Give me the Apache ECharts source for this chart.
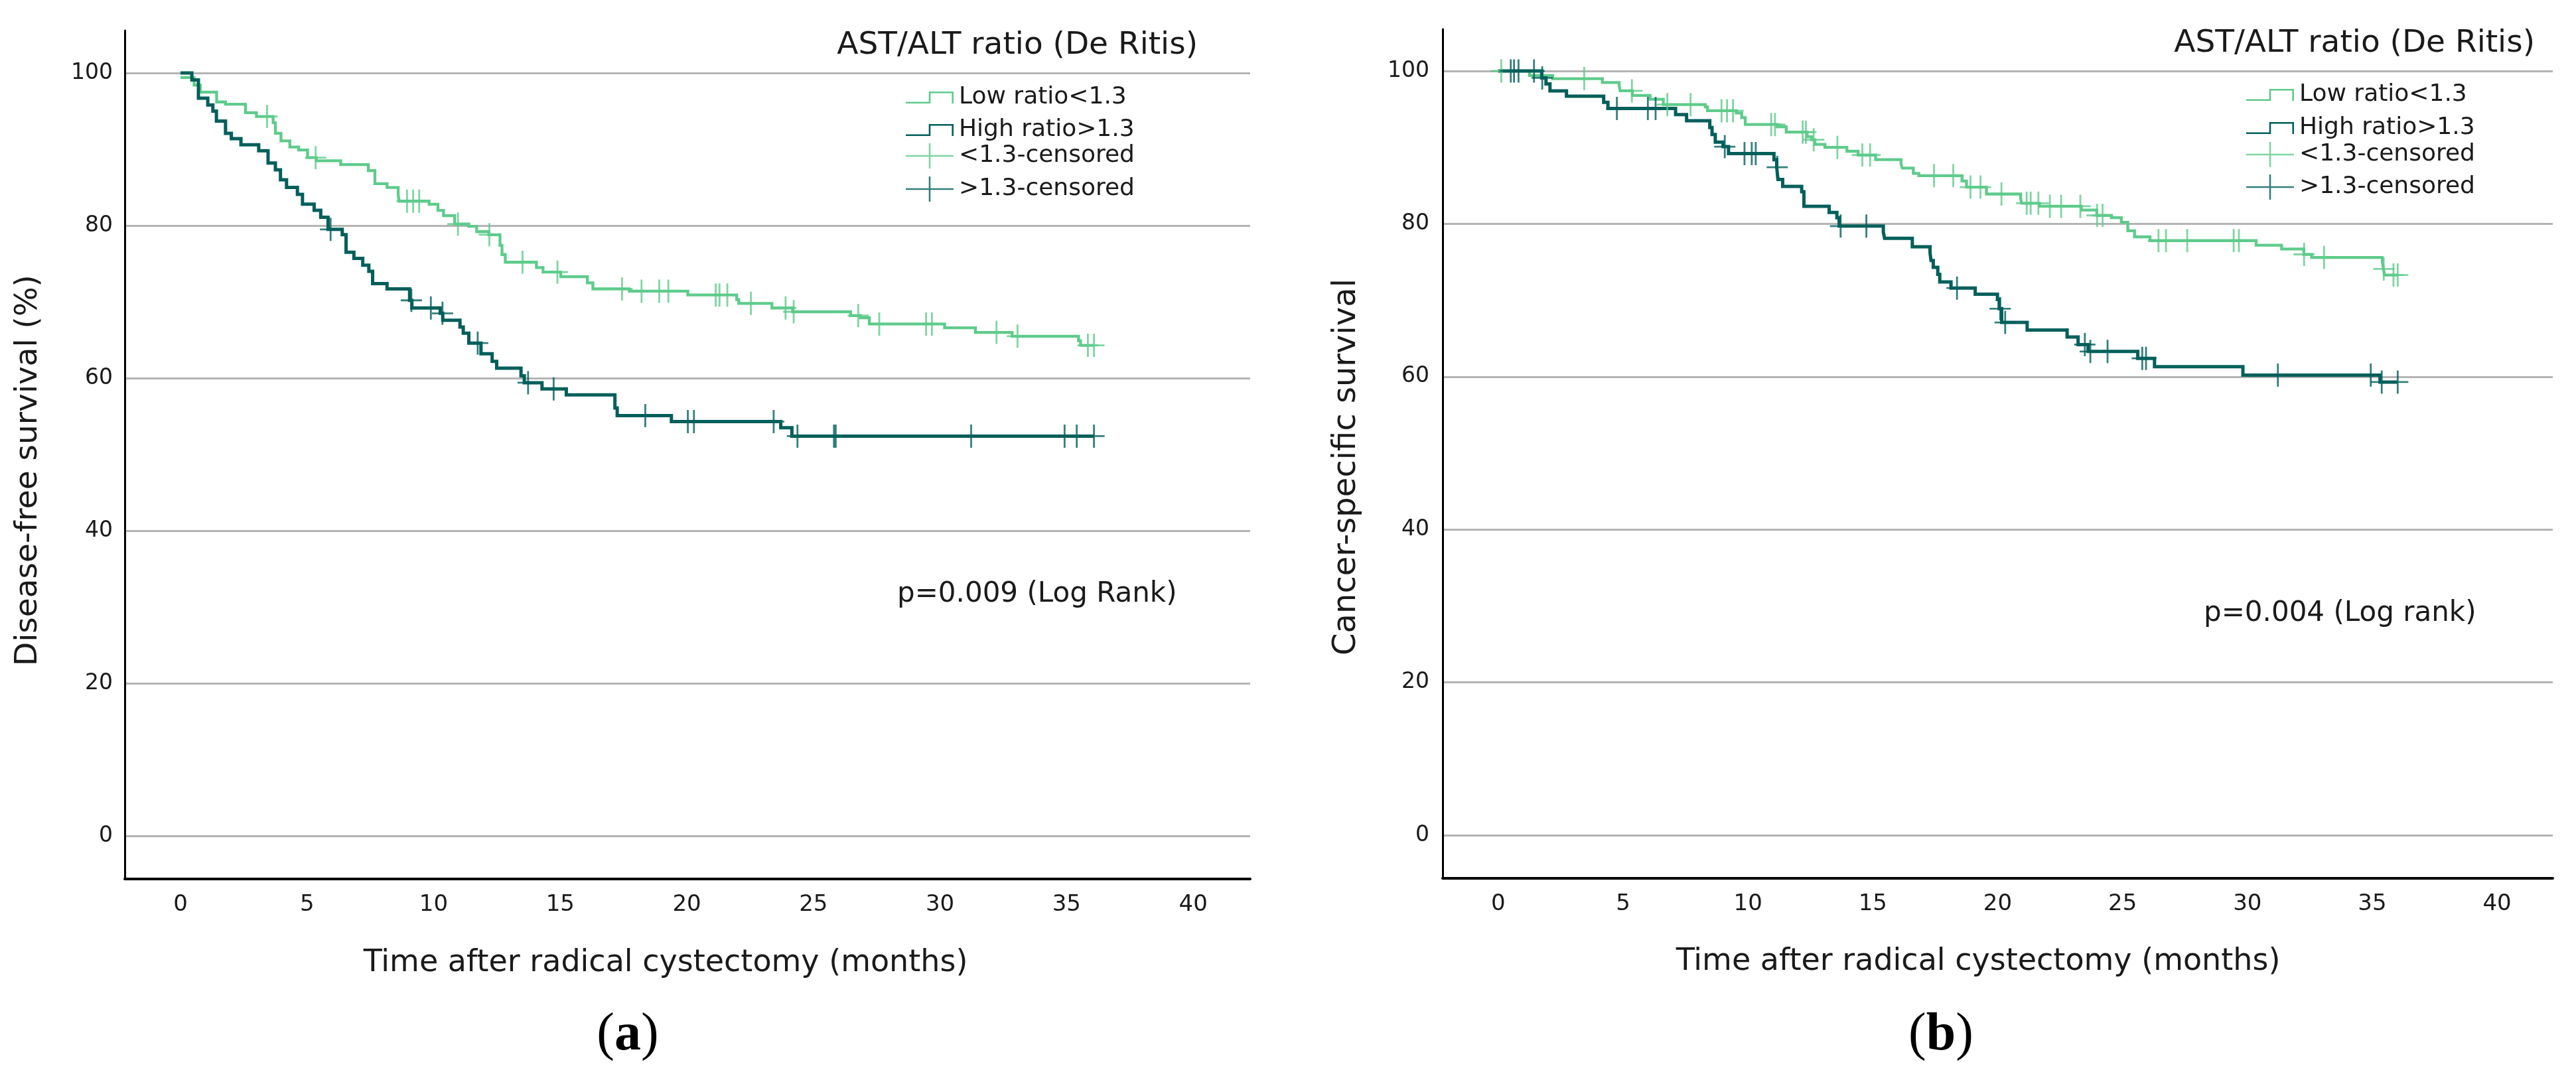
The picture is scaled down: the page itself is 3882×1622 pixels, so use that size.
<!DOCTYPE html>
<html>
<head>
<meta charset="utf-8">
<script src="https://cdn.jsdelivr.net/npm/echarts@6/dist/echarts.min.js"></script>
<style>
html,body{margin:0;padding:0;background:#fff;}
#chart{width:3882px;height:1622px;}
</style>
</head>
<body>
<div id="chart"></div>
<script>
// ---------- tick labels ----------
const xTicks = [0, 5, 10, 15, 20, 25, 30, 35, 40];
const yTicks = [0, 20, 40, 60, 80, 100];

// ---------- (a) Disease-free survival: [time (months), survival %] at each event ----------
const dfsLowSteps = [
  [0, 99.4], [0.54, 98.4], [0.78, 97.5], [1.43, 96.2], [1.78, 95.9], [2.57, 94.8], [3.00, 94.3],
  [3.66, 93.5], [3.75, 92.1], [3.97, 91.1], [4.32, 90.3], [4.67, 89.9], [5.02, 88.9], [5.37, 88.5],
  [6.33, 88.0], [7.42, 87.2], [7.68, 85.5], [8.16, 85.0], [8.60, 84.0], [8.64, 83.2], [9.82, 82.8],
  [10.17, 82.0], [10.39, 81.3], [10.83, 80.2], [11.39, 79.9], [11.70, 79.2], [12.18, 78.8],
  [12.62, 77.4], [12.70, 76.2], [12.83, 75.2], [14.06, 74.5], [14.32, 73.9], [15.02, 73.3],
  [16.07, 72.5], [16.29, 71.7], [17.73, 71.4], [20.04, 70.9], [21.97, 70.3], [22.05, 69.8],
  [23.36, 69.2], [24.18, 68.7], [26.47, 68.2], [26.86, 67.9], [27.21, 67.1], [30.18, 66.6],
  [31.40, 66.0], [32.85, 65.5], [35.47, 64.9], [35.55, 64.3]
];
const dfsLowCensored = [3.42, 5.34, 8.95, 9.19, 9.43, 10.96, 12.2, 13.51, 14.89, 17.44, 18.21, 18.91,
  19.27, 21.14, 21.29, 21.6, 22.53, 23.9, 24.22, 26.77, 27.6, 29.45, 29.68, 32.23, 33.06, 35.84, 36.08];

const dfsHighSteps = [
  [0, 100], [0.45, 99.1], [0.71, 96.7], [1.08, 95.8], [1.28, 95.0], [1.42, 93.7], [1.78, 92.1],
  [2.01, 91.4], [2.39, 90.6], [3.09, 89.8], [3.46, 88.2], [3.75, 87.3], [3.95, 86.0], [4.19, 85.0],
  [4.62, 84.1], [4.82, 82.8], [5.28, 82.0], [5.54, 81.1], [5.83, 79.5], [6.39, 78.8], [6.54, 76.5],
  [6.85, 75.7], [7.20, 74.8], [7.44, 74.0], [7.59, 72.4], [8.16, 71.7], [9.05, 70.2], [9.14, 69.2],
  [10.26, 68.5], [10.36, 67.6], [11.04, 66.7], [11.17, 65.9], [11.39, 64.6], [11.87, 63.2],
  [12.31, 62.2], [12.49, 61.3], [13.45, 60.3], [13.58, 59.4], [14.28, 58.6], [15.24, 57.8],
  [17.16, 56.1], [17.25, 55.1], [19.39, 54.3], [23.71, 53.5], [24.15, 52.4]
];
const dfsHighCensored = [5.93, 9.12, 9.89, 10.35, 11.74, 13.73, 14.74, 18.36, 20.04, 20.28, 23.43,
  24.37, 25.81, 25.88, 31.23, 34.92, 35.4, 36.08];

// ---------- (b) Cancer-specific survival ----------
const cssLowSteps = [
  [0, 100], [1.25, 99.4], [2.18, 99.0], [4.17, 98.5], [4.84, 98.1], [4.88, 97.4], [5.37, 96.8],
  [6.08, 96.3], [6.61, 95.6], [8.29, 95.3], [8.38, 94.8], [9.53, 94.5], [9.75, 93.9], [9.89, 93.0],
  [11.17, 92.7], [11.53, 92.0], [12.37, 91.4], [12.55, 91.0], [12.68, 90.4], [13.08, 90.0],
  [13.96, 89.5], [14.41, 89.0], [15.11, 88.4], [16.13, 87.8], [16.18, 87.3], [16.62, 86.6],
  [16.84, 86.3], [18.57, 85.6], [18.75, 84.8], [19.55, 83.9], [20.92, 83.3], [20.96, 82.7],
  [21.67, 82.3], [23.35, 81.8], [23.97, 81.1], [24.55, 80.8], [24.95, 80.2], [25.21, 79.1],
  [25.48, 78.3], [26.10, 77.8], [30.35, 77.2], [31.37, 76.7], [32.26, 76.0], [32.57, 75.6],
  [35.40, 75.1], [35.45, 74.1], [35.49, 73.3]
];
const cssLowCensored = [0.12, 3.44, 5.35, 6.77, 7.7, 8.94, 9.16, 9.4, 10.93, 11.08, 12.19, 12.32,
  12.63, 13.58, 14.58, 14.89, 17.45, 18.22, 18.91, 19.31, 20.15, 21.16, 21.32, 21.63, 22.09, 22.54,
  23.31, 23.98, 24.2, 26.44, 26.74, 27.59, 29.45, 29.66, 32.27, 33.07, 35.46, 35.85, 36.02];

const cssHighSteps = [
  [0, 100], [1.74, 99.1], [1.91, 98.3], [2.07, 97.4], [2.73, 96.7], [4.22, 95.9], [4.39, 95.1],
  [7.10, 94.3], [7.54, 93.5], [8.47, 92.6], [8.56, 91.7], [8.69, 90.7], [9.00, 90.1], [9.22, 89.2],
  [11.04, 88.4], [11.15, 87.4], [11.20, 85.8], [11.39, 84.9], [12.15, 84.2], [12.24, 82.3],
  [13.25, 81.5], [13.56, 80.8], [13.65, 79.7], [15.42, 78.9], [15.47, 78.1], [16.58, 77.0],
  [17.29, 76.2], [17.33, 75.2], [17.42, 74.3], [17.60, 73.4], [17.68, 72.4], [18.13, 71.6],
  [19.10, 70.8], [19.99, 70.1], [20.06, 68.9], [20.16, 67.1], [21.18, 66.1], [22.78, 65.2],
  [23.22, 64.2], [23.62, 63.3], [25.61, 62.4], [26.28, 61.3], [29.82, 60.2], [35.31, 59.3]
];
const cssHighCensored = [0.50, 0.63, 0.81, 1.43, 1.76, 4.75, 5.99, 6.30, 9.07, 9.86, 10.15, 10.31,
  11.17, 13.71, 14.74, 18.37, 20.1, 20.3, 23.49, 23.71, 24.4, 25.79, 25.94, 31.22, 34.94, 35.38, 36.02];

const groupNames = ['Low ratio<1.3', 'High ratio>1.3', '<1.3-censored', '>1.3-censored'];

// ---------- styling ----------
const GREEN = '#5ecb8b';
const DARK = '#005f5a';
const FONT = 'DejaVu Sans';
const TXT = '#1a1a1a';
const CROSS = 'path://M-16,-1.4h32v2.8h-32z M-1.4,-17.5h2.8v35h-2.8z';
const STEP_ICON = 'path://M0,15.4h37.3v2.6h-37.3z M34.7,0h2.6v18h-2.6z M34.7,0h37.3v2.6h-37.3z M69.4,0h2.6v18h-2.6z';
const CROSS_ICON = 'path://M0,17.7h72v2.6h-72z M34.7,0h2.6v38h-2.6z';

// ---------- helpers (build step path / censor positions from the data) ----------
function levelAt(steps, t) {
  let s = steps[0][1];
  for (const [ti, si] of steps) { if (ti <= t) s = si; else break; }
  return s;
}
function stepLine(steps, cens) {
  const pts = [];
  steps.forEach(([t, s], i) => {
    if (i > 0) pts.push([t, steps[i - 1][1]]);
    pts.push([t, s]);
  });
  const end = Math.max(steps[steps.length - 1][0], ...cens);
  pts.push([end, steps[steps.length - 1][1]]);
  return pts;
}
function censorPts(steps, cens) { return cens.map(t => [t, levelAt(steps, t)]); }

function lineSeries(name, idx, steps, cens, color, width, z) {
  return { type: 'line', name, xAxisIndex: idx, yAxisIndex: idx, data: stepLine(steps, cens),
    symbol: 'none', showSymbol: false, animation: false, z,
    lineStyle: { color, width, cap: 'butt', join: 'miter' }, itemStyle: { color } };
}
function censorSeries(name, idx, steps, cens, color, z) {
  return { type: 'scatter', name, xAxisIndex: idx, yAxisIndex: idx, data: censorPts(steps, cens),
    symbol: CROSS, symbolSize: [32, 35], animation: false, z, itemStyle: { color } };
}

function xAxisCfg(idx, min, max) {
  return { type: 'value', gridIndex: idx, min, max,
    axisLine: { show: true, onZero: false, lineStyle: { color: '#000', width: 4 } },
    axisTick: { show: false, customValues: xTicks },
    axisLabel: { customValues: xTicks, fontFamily: FONT, fontSize: 34, color: TXT, margin: 22 },
    splitLine: { show: false } };
}
function yAxisCfg(idx, min, max, margin) {
  return { type: 'value', gridIndex: idx, min, max,
    axisLine: { show: true, onZero: false, lineStyle: { color: '#000', width: 3 } },
    axisTick: { show: false, customValues: yTicks },
    axisLabel: { customValues: yTicks, fontFamily: FONT, fontSize: 33, color: TXT, margin },
    splitLine: { show: true, customValues: yTicks, lineStyle: { color: '#b4b4b4', width: 3 } } };
}
function legendItem(name, icon, left, centerY, h) {
  return { data: [{ name, icon }], left, top: centerY - h / 2, orient: 'vertical', padding: 0,
    itemWidth: 72, itemHeight: h, selectedMode: false,
    itemStyle: { borderWidth: 0 },
    textStyle: { fontFamily: FONT, fontSize: 36, color: TXT, lineHeight: h, padding: [0, 0, 0, 3] } };
}
function txt(text, x, y, size, align, rot) {
  return { type: 'text', x, y, rotation: rot || 0, silent: true,
    style: { text, fontFamily: FONT, fontSize: size, fill: TXT, align, verticalAlign: 'middle' } };
}
function panelLabel(letter, x, y) {
  return { type: 'text', x, y, silent: true,
    style: { text: '{p|(}{b|' + letter + '}{p|)}', align: 'center', verticalAlign: 'middle',
      rich: { p: { fontFamily: 'Liberation Serif', fontSize: 80, fill: '#000' },
              b: { fontFamily: 'Liberation Serif', fontSize: 80, fontWeight: 'bold', fill: '#000' } } } };
}

const option = {
  backgroundColor: '#fff',
  animation: false,
  grid: [
    { left: 188, top: 46, width: 1696, height: 1279 },
    { left: 2174, top: 44, width: 1673, height: 1280 }
  ],
  xAxis: [xAxisCfg(0, -2.2, 42.25), xAxisCfg(1, -2.23, 42.23)],
  yAxis: [yAxisCfg(0, -5.65, 105.57, 18), yAxisCfg(1, -5.64, 105.47, 20)],
  legend: [
    legendItem(groupNames[0], STEP_ICON, 1365, 138, 18),
    legendItem(groupNames[1], STEP_ICON, 1365, 187, 18),
    legendItem(groupNames[2], CROSS_ICON, 1365, 235, 38),
    legendItem(groupNames[3], CROSS_ICON, 1365, 285, 38),
    legendItem(groupNames[0], STEP_ICON, 3385, 134, 18),
    legendItem(groupNames[1], STEP_ICON, 3385, 184, 18),
    legendItem(groupNames[2], CROSS_ICON, 3385, 233, 38),
    legendItem(groupNames[3], CROSS_ICON, 3385, 282, 38)
  ],
  series: [
    lineSeries(groupNames[0], 0, dfsLowSteps, dfsLowCensored, GREEN, 4.3, 3),
    lineSeries(groupNames[1], 0, dfsHighSteps, dfsHighCensored, DARK, 5, 4),
    censorSeries(groupNames[2], 0, dfsLowSteps, dfsLowCensored, GREEN, 5),
    censorSeries(groupNames[3], 0, dfsHighSteps, dfsHighCensored, DARK, 6),
    lineSeries(groupNames[0], 1, cssLowSteps, cssLowCensored, GREEN, 4.3, 3),
    lineSeries(groupNames[1], 1, cssHighSteps, cssHighCensored, DARK, 5, 4),
    censorSeries(groupNames[2], 1, cssLowSteps, cssLowCensored, GREEN, 5),
    censorSeries(groupNames[3], 1, cssHighSteps, cssHighCensored, DARK, 6)
  ],
  graphic: [
    txt('AST/ALT ratio (De Ritis)', 1805, 69, 47, 'right'),
    txt('AST/ALT ratio (De Ritis)', 3820, 66, 47, 'right'),
    txt('p=0.009 (Log Rank)', 1352, 896, 42, 'left'),
    txt('p=0.004 (Log rank)', 3321, 925, 42, 'left'),
    txt('Time after radical cystectomy (months)', 1003, 1452, 46, 'center'),
    txt('Time after radical cystectomy (months)', 2981, 1450, 46, 'center'),
    txt('Disease-free survival (%)', 43, 709, 47, 'center', Math.PI / 2),
    txt('Cancer-specific survival', 2030, 704, 48, 'center', Math.PI / 2),
    panelLabel('a', 946, 1561),
    panelLabel('b', 2925, 1561)
  ]
};

const chart = echarts.init(document.getElementById('chart'), null, { renderer: 'canvas' });
chart.setOption(option);
</script>
</body>
</html>
